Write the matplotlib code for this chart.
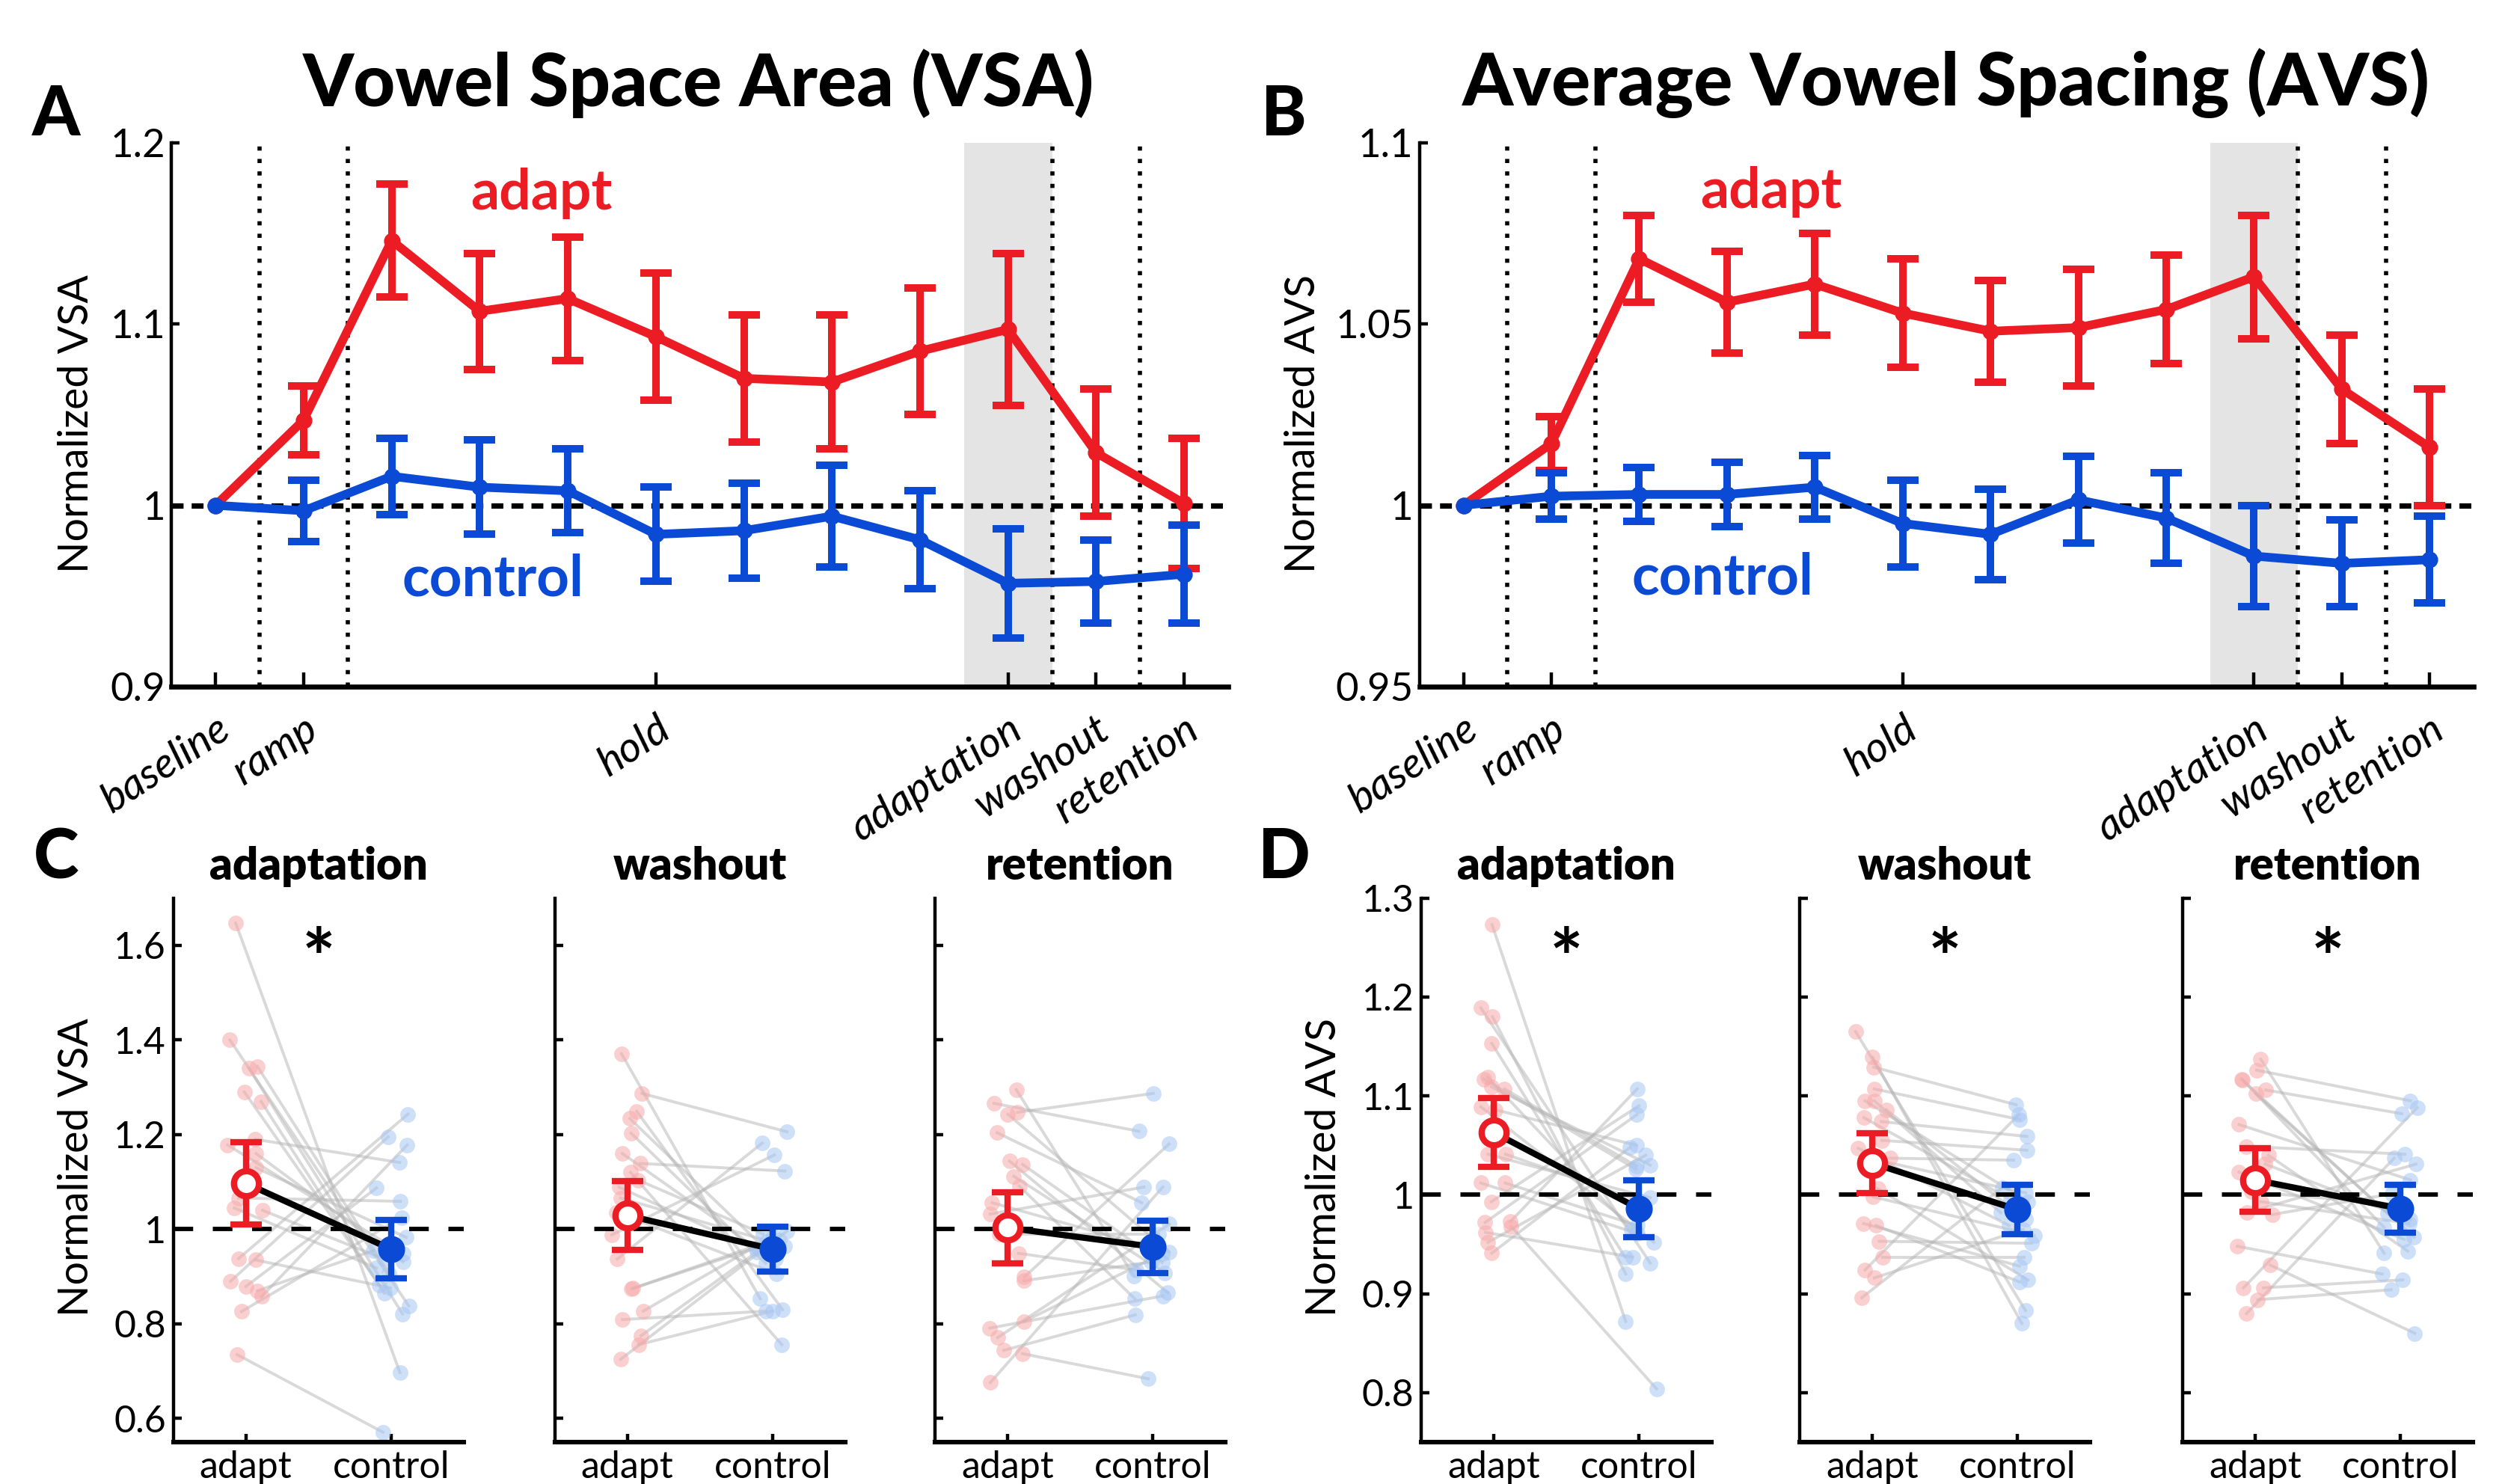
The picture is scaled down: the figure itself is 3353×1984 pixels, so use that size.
import numpy as np
import matplotlib.pyplot as plt

plt.rcParams['font.family'] = ['Lato', 'DejaVu Sans']

RED = '#ec1c24'
BLUE = '#0a4ad4'
PINK = '#f7a9a9'
SKY = '#a6c6f4'

# ---- time course (panels A and B) ----
phase_labels = ['baseline', 'ramp', 'hold', 'adaptation', 'washout', 'retention']
phase_ticks = [0, 1, 5, 9, 10, 11]

vsa_adapt = [1.0, 1.047, 1.146, 1.107, 1.114, 1.093, 1.070, 1.068, 1.085, 1.097, 1.029, 1.001]
vsa_adapt_err = [0, 0.019, 0.031, 0.032, 0.034, 0.035, 0.035, 0.037, 0.035, 0.042, 0.035, 0.036]
vsa_ctrl = [1.0, 0.997, 1.016, 1.010, 1.008, 0.984, 0.986, 0.994, 0.981, 0.957, 0.958, 0.962]
vsa_ctrl_err = [0, 0.017, 0.021, 0.026, 0.023, 0.026, 0.026, 0.028, 0.027, 0.030, 0.023, 0.027]

avs_adapt = [1.0, 1.017, 1.068, 1.056, 1.061, 1.053, 1.048, 1.049, 1.054, 1.063, 1.032, 1.016]
avs_adapt_err = [0, 0.0075, 0.012, 0.014, 0.014, 0.015, 0.014, 0.016, 0.015, 0.017, 0.015, 0.016]
avs_ctrl = [1.0, 1.0025, 1.003, 1.003, 1.005, 0.995, 0.992, 1.0015, 0.9965, 0.986, 0.984, 0.985]
avs_ctrl_err = [0, 0.0064, 0.0075, 0.0088, 0.0088, 0.012, 0.0125, 0.012, 0.0125, 0.014, 0.012, 0.012]

# ---- individual participants (panels C and D), paired by index ----
phases = ['adaptation', 'washout', 'retention']

vsa_adp_a = [1.647, 1.40, 1.341, 1.344, 1.29, 1.27, 1.19, 1.178, 1.16, 1.13, 1.066, 1.045, 1.04, 0.938, 0.935, 0.89, 0.879, 0.87, 0.858, 0.826, 0.735]
vsa_adp_c = [0.697, 0.838, 0.821, 0.906, 0.882, 0.865, 1.141, 0.948, 0.931, 0.983, 1.059, 0.918, 0.937, 1.243, 0.876, 1.195, 1.087, 0.955, 1.178, 1.025, 0.571]
vsa_wsh_a = [1.371, 1.287, 1.249, 1.234, 1.203, 1.16, 1.139, 1.12, 1.104, 1.089, 1.066, 1.036, 0.988, 0.937, 0.875, 0.874, 0.827, 0.809, 0.775, 0.756, 0.725]
vsa_wsh_c = [0.853, 1.206, 0.83, 0.945, 0.928, 0.96, 1.123, 0.756, 0.99, 0.937, 0.965, 0.906, 1.157, 1.182, 0.977, 0.973, 0.985, 0.827, 0.952, 0.827, 0.996]
vsa_ret_a = [1.295, 1.266, 1.247, 1.243, 1.204, 1.144, 1.137, 1.112, 1.091, 1.056, 1.032, 0.99, 0.949, 0.899, 0.891, 0.805, 0.791, 0.771, 0.744, 0.737, 0.676]
vsa_ret_c = [0.901, 1.207, 1.287, 0.952, 1.056, 0.866, 0.93, 0.908, 0.853, 0.96, 1.089, 0.99, 0.914, 1.18, 0.931, 0.948, 0.859, 1.011, 0.819, 0.684, 1.089]

avs_adp_a = [1.273, 0.968, 1.189, 1.180, 1.153, 1.119, 1.117, 1.109, 1.107, 1.089, 1.086, 1.041, 1.041, 1.012, 1.012, 0.993, 0.973, 0.972, 0.962, 0.952, 0.941]
avs_adp_c = [0.872, 0.804, 0.931, 0.92, 0.937, 0.965, 1.026, 1.03, 1.029, 0.952, 1.05, 0.997, 0.994, 0.961, 0.969, 1.09, 1.107, 1.081, 0.937, 1.04, 1.048]
avs_wsh_a = [1.165, 1.139, 1.129, 1.107, 1.095, 1.095, 1.086, 1.078, 1.074, 1.055, 1.047, 1.037, 1.036, 1.006, 0.998, 0.971, 0.969, 0.953, 0.937, 0.924, 0.916, 0.896]
avs_wsh_c = [0.883, 0.87, 1.091, 1.076, 0.993, 0.982, 0.975, 0.995, 1.059, 1.045, 0.969, 1.035, 1.002, 0.914, 0.959, 0.928, 0.912, 0.951, 0.937, 1.081, 0.965, 1.007]
avs_ret_a = [1.137, 1.126, 1.117, 1.116, 1.106, 1.102, 1.071, 1.049, 1.04, 1.031, 1.023, 1.003, 0.993, 0.982, 0.98, 0.948, 0.929, 0.906, 0.906, 0.894, 0.88]
avs_ret_c = [0.941, 1.095, 0.981, 0.967, 1.082, 0.957, 1.015, 1.041, 0.943, 0.975, 0.955, 0.99, 0.971, 1.031, 1.001, 0.920, 0.86, 1.088, 0.914, 0.904, 1.037]

# horizontal jitter of the dots
vsa_adp_a_dx = [-0.07, -0.11, 0.02, 0.08, -0.01, 0.105, 0.065, -0.125, 0.07, 0.07, -0.05, -0.08, 0.115, -0.05, 0.067, -0.105, 0.0, 0.08, 0.11, -0.03, -0.06]
vsa_adp_c_dx = [0.062, 0.123, 0.08, -0.012, -0.08, -0.047, 0.06, 0.083, 0.083, 0.104, 0.066, -0.10, -0.047, 0.117, -0.003, -0.02, -0.10, -0.12, 0.112, 0.075, -0.055]
vsa_wsh_a_dx = [-0.04, 0.10, 0.065, 0.017, 0.026, -0.034, 0.09, 0.022, 0.074, -0.057, -0.046, -0.077, -0.107, -0.069, 0.04, 0.03, 0.11, -0.034, 0.095, 0.077, -0.046]
vsa_wsh_c_dx = [-0.084, 0.10, 0.07, -0.003, -0.046, -0.11, 0.086, 0.065, -0.064, 0.022, 0.082, 0.026, 0.014, -0.07, 0.048, -0.038, 0.005, -0.046, -0.107, 0.002, 0.1]
vsa_ret_a_dx = [0.06, -0.094, 0.068, 0.002, -0.072, 0.014, 0.104, 0.043, 0.082, -0.106, -0.12, -0.058, 0.077, 0.116, 0.113, 0.113, -0.123, -0.068, -0.026, 0.103, -0.118]
vsa_ret_c_dx = [-0.128, -0.094, 0.005, 0.113, -0.075, 0.104, 0.065, 0.082, -0.123, 0.005, -0.06, 0.04, -0.114, 0.113, -0.012, 0.065, 0.07, 0.116, -0.12, -0.03, 0.07]
avs_adp_a_dx = [-0.012, 0.12, -0.09, -0.009, -0.014, -0.043, -0.069, -0.017, 0.074, -0.09, 0.009, -0.04, 0.081, -0.09, 0.078, -0.017, 0.115, -0.06, -0.057, -0.04, -0.014]
avs_adp_c_dx = [-0.091, 0.121, 0.078, -0.091, -0.095, -0.052, -0.022, 0.078, -0.017, 0.103, -0.017, 0.078, 0.0, -0.012, -0.012, 0.0, -0.012, -0.014, -0.043, 0.047, -0.06]
avs_wsh_a_dx = [-0.115, 0.002, 0.01, 0.014, -0.05, 0.014, 0.096, -0.058, 0.062, 0.065, -0.097, 0.125, 0.005, 0.04, 0.005, -0.06, 0.027, 0.048, 0.074, -0.05, 0.014, -0.072]
avs_wsh_c_dx = [0.056, 0.031, -0.009, 0.017, 0.074, -0.115, 0.056, -0.046, 0.065, 0.065, -0.058, -0.026, 0.056, 0.074, 0.116, 0.014, 0.014, 0.096, 0.048, 0.01, 0.04, -0.106]
avs_ret_a_dx = [0.038, 0.009, -0.095, -0.086, 0.072, 0.005, -0.112, -0.06, 0.091, 0.069, -0.112, -0.026, 0.04, -0.057, 0.116, -0.124, 0.103, -0.081, 0.057, 0.017, -0.06]
avs_ret_c_dx = [-0.112, 0.069, -0.086, -0.112, 0.009, 0.095, 0.069, 0.031, 0.052, 0.069, 0.026, -0.009, 0.06, 0.107, -0.057, -0.126, 0.1, 0.116, 0.017, -0.064, -0.043]

# group means and SEM per phase
vsa_mean_a = [1.097, 1.029, 1.003]
vsa_sem_a = [0.087, 0.073, 0.075]
vsa_mean_c = [0.958, 0.958, 0.963]
vsa_sem_c = [0.062, 0.048, 0.055]
avs_mean_a = [1.063, 1.032, 1.015]
avs_sem_a = [0.035, 0.030, 0.032]
avs_mean_c = [0.986, 0.985, 0.986]
avs_sem_c = [0.029, 0.025, 0.024]
vsa_sig = [True, False, False]
avs_sig = [True, True, True]

fig = plt.figure(figsize=(16.765, 9.92), dpi=200)


def style_axes(ax, lw_left=1.6, lw_bottom=2.4):
    for s in ['top', 'right']:
        ax.spines[s].set_visible(False)
    ax.spines['left'].set_linewidth(lw_left)
    ax.spines['bottom'].set_linewidth(lw_bottom)


def time_course(rect, adapt, adapt_err, ctrl, ctrl_err, ylim, yticks, ytl, lab_a, lab_c):
    ax = fig.add_axes(rect)
    x = np.arange(len(adapt))
    ax.axvspan(8.5, 9.5, color='#e4e4e4', lw=0, zorder=0)
    for xv in [0.5, 1.5, 9.5, 10.5]:
        ax.axvline(xv, color='k', ls=(0, (1, 2.0)), lw=2.0, zorder=1)
    ax.axhline(1, color='k', ls=(0, (2.2, 1.5)), lw=2.6, zorder=1)
    for vals, errs, col, z in [(adapt, adapt_err, RED, 3), (ctrl, ctrl_err, BLUE, 4)]:
        ax.plot(x, vals, color=col, lw=4.2, marker='o', ms=7, zorder=z)
        ax.errorbar(x[1:], vals[1:], yerr=errs[1:], fmt='none', ecolor=col,
                    elinewidth=3.6, capsize=7.5, capthick=3.6, zorder=z)
    ax.set_xlim(-0.5, 11.5)
    ax.set_ylim(*ylim)
    ax.set_yticks(yticks)
    ax.set_yticklabels(ytl, fontsize=19)
    ax.set_xticks(phase_ticks)
    ax.set_xticklabels(phase_labels, fontsize=20.5, style='italic', rotation=33,
                       ha='right', va='top', rotation_mode='anchor')
    ax.tick_params(axis='x', direction='in', length=7, width=1.6, pad=11)
    ax.tick_params(axis='y', direction='in', length=4, width=1.6, pad=3)
    style_axes(ax)
    ax.text(*lab_a, 'adapt', color=RED, fontsize=27, fontweight='bold', ha='center', va='center')
    ax.text(*lab_c, 'control', color=BLUE, fontsize=27.5, fontweight='bold', ha='center', va='center')
    return ax


time_course([0.0684, 0.5373, 0.4213, 0.3666], vsa_adapt, vsa_adapt_err, vsa_ctrl, vsa_ctrl_err,
            (0.9, 1.2), [0.9, 1.0, 1.1, 1.2], ['0.9', '1', '1.1', '1.2'],
            (3.7, 1.172), (3.15, 0.959))
time_course([0.566, 0.5373, 0.4203, 0.3666], avs_adapt, avs_adapt_err, avs_ctrl, avs_ctrl_err,
            (0.95, 1.1), [0.95, 1.0, 1.05, 1.1], ['0.95', '1', '1.05', '1.1'],
            (3.5, 1.0865), (2.95, 0.980))


def paired(left, a, a_dx, c, c_dx, m_a, s_a, m_c, s_c, title, ylim, yticks, ytl, sig, show_labels):
    ax = fig.add_axes([left, 0.0282, 0.1157, 0.3667])
    xa = 1 + np.array(a_dx)
    xc = 2 + np.array(c_dx)
    for i in range(len(a)):
        ax.plot([xa[i], xc[i]], [a[i], c[i]], color='#b5b5b5', alpha=0.5, lw=1.4, zorder=1)
    ax.plot(xa, a, 'o', color=PINK, alpha=0.55, ms=7.5, mew=0, zorder=2)
    ax.plot(xc, c, 'o', color=SKY, alpha=0.55, ms=7.5, mew=0, zorder=2)
    ax.axhline(1, color='k', ls=(0, (4.5, 4.5)), lw=2.1, zorder=3)
    ax.plot([1, 2], [m_a, m_c], color='k', lw=3, zorder=4)
    ax.errorbar([1], [m_a], yerr=[s_a], fmt='o', color=RED, mfc='white', mec=RED, mew=3,
                ms=12, elinewidth=3, capsize=7.5, capthick=3, zorder=5)
    ax.errorbar([2], [m_c], yerr=[s_c], fmt='o', color=BLUE, mfc=BLUE, mec=BLUE,
                ms=12, elinewidth=3, capsize=7.5, capthick=3, zorder=5)
    if sig:
        ax.text(1.5, ylim[1] - 0.12 * (ylim[1] - ylim[0]), '*', fontsize=38, fontweight='bold',
                ha='center', va='center')
    ax.set_xlim(0.5, 2.5)
    ax.set_ylim(*ylim)
    ax.set_xticks([1, 2])
    ax.set_xticklabels(['adapt', 'control'], fontsize=18)
    ax.set_yticks(yticks)
    ax.set_yticklabels(ytl if show_labels else [], fontsize=18)
    ax.tick_params(direction='in', length=4, width=1.6)
    ax.tick_params(axis='x', pad=4)
    style_axes(ax, 1.6, 2.2)
    ax.set_title(title, fontsize=21.5, fontweight='heavy', pad=9)
    return ax


vsa_sets = [(vsa_adp_a, vsa_adp_a_dx, vsa_adp_c, vsa_adp_c_dx),
            (vsa_wsh_a, vsa_wsh_a_dx, vsa_wsh_c, vsa_wsh_c_dx),
            (vsa_ret_a, vsa_ret_a_dx, vsa_ret_c, vsa_ret_c_dx)]
avs_sets = [(avs_adp_a, avs_adp_a_dx, avs_adp_c, avs_adp_c_dx),
            (avs_wsh_a, avs_wsh_a_dx, avs_wsh_c, avs_wsh_c_dx),
            (avs_ret_a, avs_ret_a_dx, avs_ret_c, avs_ret_c_dx)]

for i, left in enumerate([0.0691, 0.2212, 0.3728]):
    a, adx, c, cdx = vsa_sets[i]
    paired(left, a, adx, c, cdx, vsa_mean_a[i], vsa_sem_a[i], vsa_mean_c[i], vsa_sem_c[i],
           phases[i], (0.55, 1.70), [0.6, 0.8, 1.0, 1.2, 1.4, 1.6],
           ['0.6', '0.8', '1', '1.2', '1.4', '1.6'], vsa_sig[i], i == 0)

for i, left in enumerate([0.5667, 0.7176, 0.8703]):
    a, adx, c, cdx = avs_sets[i]
    paired(left, a, adx, c, cdx, avs_mean_a[i], avs_sem_a[i], avs_mean_c[i], avs_sem_c[i],
           phases[i], (0.75, 1.30), [0.8, 0.9, 1.0, 1.1, 1.2, 1.3],
           ['0.8', '0.9', '1', '1.1', '1.2', '1.3'], avs_sig[i], i == 0)

# titles, panel letters, y labels
fig.text(0.2787, 0.944, 'Vowel Space Area (VSA)', fontsize=35, fontweight='black', ha='center', va='center')
fig.text(0.776, 0.944, 'Average Vowel Spacing (AVS)', fontsize=35, fontweight='black', ha='center', va='center')
for lbl, x, y in [('A', 0.0223, 0.922), ('B', 0.512, 0.922), ('C', 0.0223, 0.4213), ('D', 0.512, 0.4213)]:
    fig.text(x, y, lbl, fontsize=33, fontweight='black', ha='center', va='center')
for lbl, x, y in [('Normalized VSA', 0.0306, 0.7144), ('Normalized AVS', 0.5198, 0.7144),
                  ('Normalized VSA', 0.0306, 0.2134), ('Normalized AVS', 0.528, 0.2134)]:
    fig.text(x, y, lbl, fontsize=20, rotation=90, ha='center', va='center')

fig.savefig('out.png', dpi=200)
